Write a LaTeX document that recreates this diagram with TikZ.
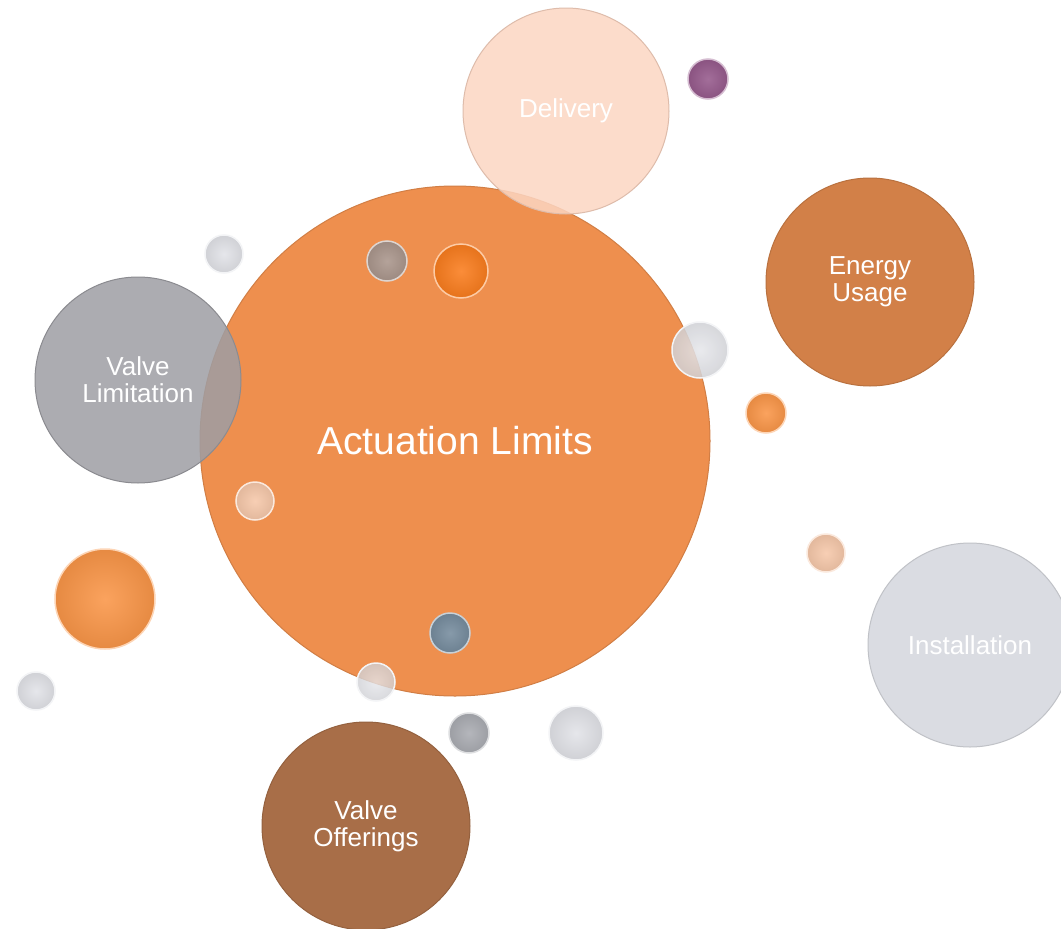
\documentclass[tikz,border=0pt]{standalone}
\usepackage{fontspec}
\setmainfont{Liberation Sans}
\usepackage{tikz}
\usetikzlibrary{positioning,backgrounds}
\definecolor{color_main}{RGB}{238,143,78}
\definecolor{color_deli}{RGB}{252,214,194}
\definecolor{color_ener}{RGB}{210,128,72}
\definecolor{color_valv}{RGB}{158,158,164}
\definecolor{color_inst}{RGB}{218,220,226}
\definecolor{color_offe}{RGB}{168,110,72}
\definecolor{color_oran}{RGB}{250,150,72}
\definecolor{color_whit}{RGB}{226,227,232}
\definecolor{color_brow}{RGB}{170,150,140}
\definecolor{color_blue}{RGB}{118,140,158}
\definecolor{color_grey}{RGB}{170,172,178}
\definecolor{color_peac}{RGB}{246,200,170}
\definecolor{color_purp}{RGB}{150,90,140}
\definecolor{color_hot}{RGB}{250,125,30}

\begin{document}
\begin{tikzpicture}[x=1pt, y=-1pt,
  bubble/.style={circle, inner sep=0pt, draw=#1!88!black, line width=1pt,
    fill=#1, text=white, align=center,
    font=\fontsize{26}{27}\selectfont},
  dot/.style={circle, inner sep=0pt, draw=white!60!#1, line width=1.5pt,
    inner color=white!12!#1, outer color=#1!92!black}]

  \useasboundingbox[fill=white] (0,0) rectangle (1061,929);

  % MAIN BUBBLE
  \node[bubble=color_main, minimum size=510pt,
    font=\fontsize{39}{42}\selectfont] (main) at (455,441) {Actuation Limits};

  %
  % OUTER BUBBLES
  \node[bubble=color_deli, minimum size=206pt, fill opacity=0.85,
    text opacity=1] (delivery) at (566,111) {Delivery};
  \node[bubble=color_ener, minimum size=208pt] (energy) at (870,282)
    {Energy\\Usage};
  \node[bubble=color_valv, minimum size=206pt, fill opacity=0.85,
    text opacity=1] (limitation) at (138,380) {Valve\\Limitation};
  \node[bubble=color_inst, minimum size=204pt] (installation) at (970,645)
    {Installation};
  \node[bubble=color_offe, minimum size=208pt] (offerings) at (366,826)
    {Valve\\Offerings};

  %
  % SMALL BUBBLES
  \node[dot=color_oran, minimum size=100pt] (orange) at (105,599) {};
  \node[dot=color_purp, minimum size=40pt] (purple) at (708,79) {};
  \node[dot=color_whit, minimum size=38pt] (white1) at (36,691) {};
  \node[dot=color_whit, minimum size=38pt] (white2) at (224,254) {};
  \node[dot=color_brow, minimum size=40pt] (brown) at (387,261) {};
  \node[dot=color_hot, minimum size=54pt] (hot) at (461,271) {};
  \node[dot=color_whit, minimum size=56pt, fill opacity=0.85] (white3)
    at (700,350) {};
  \node[dot=color_oran, minimum size=40pt] (orange2) at (766,413) {};
  \node[dot=color_peac, minimum size=38pt] (peach1) at (255,501) {};
  \node[dot=color_peac, minimum size=38pt] (peach2) at (826,553) {};
  \node[dot=color_blue, minimum size=40pt] (blue) at (450,633) {};
  \node[dot=color_whit, minimum size=38pt, fill opacity=0.8] (white4)
    at (376,682) {};
  \node[dot=color_grey, minimum size=40pt] (grey) at (469,733) {};
  \node[dot=color_whit, minimum size=54pt] (white5) at (576,733) {};

\end{tikzpicture}
\end{document}
